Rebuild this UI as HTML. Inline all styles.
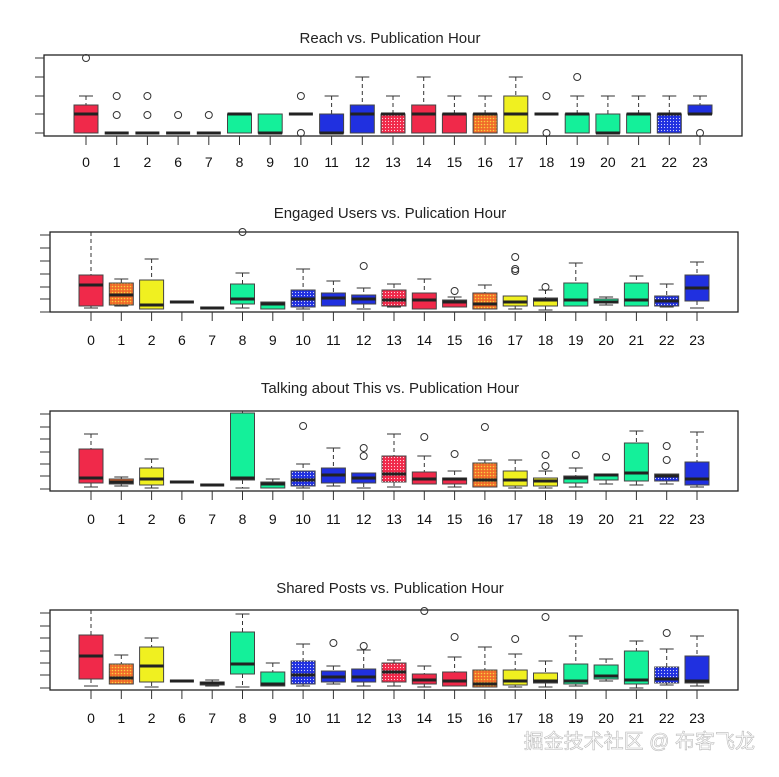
<!DOCTYPE html>
<html><head><meta charset="utf-8"><style>
html,body{margin:0;padding:0;background:#fff;}
svg{display:block;font-family:"Liberation Sans",Arial,sans-serif;}
</style></head><body>
<svg id="s" width="779" height="777" viewBox="0 0 779 777" xmlns="http://www.w3.org/2000/svg">
<defs>
<pattern id="dots" width="3" height="3" patternUnits="userSpaceOnUse"><rect width="3" height="3" fill="none"/><circle cx="1.5" cy="1.5" r="0.6" fill="#fff" opacity="0.8"/></pattern>
<pattern id="odots" width="3" height="3" patternUnits="userSpaceOnUse"><rect width="3" height="3" fill="#f06a2a"/><circle cx="1.5" cy="1.5" r="0.8" fill="#f8d040"/></pattern>
</defs>
</svg>
<script>
const C={r:'#f0294a',o:'#f06a2a',y:'#f0f020',g:'#14f09a',b:'#2030e0',k:'#333'};
const hrs=[0,1,2,6,7,8,9,10,11,12,13,14,15,16,17,18,19,20,21,22,23];
const cols=['r','o','y','k','k','g','g','b','b','b','r','r','r','o','y','y','g','g','g','b','b'];
const dotted=[1,7,10,13,19];
// [q1top,med,q3bottom,whiskTop,whiskBot,outliers]
const P=[
{title:'Reach vs. Publication Hour',ty:43,ly:167,fl:44,fr:742,ft:55,fb:136,x0:86,dx:30.7,ticks:[58,77,96,114,133],tl:35,
d:[[105,114,133,96,133,[58]],[133,133,133,133,133,[96,115]],[133,133,133,133,133,[96,115]],[133,133,133,133,133,[115]],[133,133,133,133,133,[115]],
[114,114,133,114,133,[]],[114,133,133,114,133,[]],[114,114,114,114,114,[96,133]],[114,133,133,96,133,[]],[105,114,133,77,133,[]],
[114,114,133,96,133,[]],[105,114,133,77,133,[]],[114,114,133,96,133,[]],[114,114,133,96,133,[]],[96,114,133,77,133,[]],
[114,114,114,114,114,[96,133]],[114,114,133,96,133,[77]],[114,133,133,96,133,[]],[114,114,133,96,133,[]],[114,114,133,96,133,[]],[105,114,114,96,114,[133]]]},
{title:'Engaged Users vs. Pulication Hour',ty:218,ly:345,fl:50,fr:738,ft:232,fb:312,x0:91,dx:30.3,ticks:[235,248,261,274,287,299,312],tl:40,
d:[[275,285,306,232,308,[]],[283,295,305,279,306,[]],[280,305,309,259,309,[]],[302,302,302,302,302,[]],[308,308,308,308,308,[]],
[284,299,304,273,308,[232]],[302,304,309,302,309,[]],[290,299,307,269,309,[]],[293,298,306,281,306,[]],[295,299,304,288,309,[266]],
[290,300,306,284,307,[]],[293,300,309,279,309,[]],[300,302,307,297,307,[291]],[293,304,309,285,309,[]],[296,302,306,296,309,[257,269,271]],
[298,300,306,290,310,[287]],[283,300,306,263,306,[]],[299,302,303,297,305,[]],[283,300,306,276,306,[]],[296,301,306,284,307,[]],[275,288,301,262,308,[]]]},
{title:'Talking about This vs. Publication Hour',ty:393,ly:524,fl:50,fr:738,ft:411,fb:491,x0:91,dx:30.3,ticks:[414,427,439,452,464,476,489],tl:40,
d:[[449,478,483,434,487,[]],[479,482,484,477,486,[]],[468,479,485,459,488,[]],[482,482,482,482,482,[]],[485,485,485,485,485,[]],
[413,478,480,411,488,[]],[482,484,488,479,488,[]],[471,480,486,464,488,[426]],[468,475,483,448,486,[]],[473,478,483,473,488,[448,456]],
[456,474,482,434,487,[]],[472,479,484,456,484,[437]],[478,479,484,471,487,[454]],[463,480,487,460,487,[427]],[471,480,486,460,488,[]],
[478,481,486,471,488,[455,466]],[476,478,483,468,487,[455]],[474,475,480,474,484,[457]],[443,473,481,431,485,[]],[474,476,481,474,484,[446,460]],[462,479,485,432,487,[]]]},
{title:'Shared Posts vs. Publication Hour',ty:593,ly:723,fl:50,fr:738,ft:610,fb:690,x0:91,dx:30.3,ticks:[613,626,638,651,663,675,688],tl:40,
d:[[635,656,679,610,686,[]],[664,678,684,655,684,[]],[647,666,682,638,687,[]],[681,681,681,681,681,[]],[682,683,685,680,686,[]],
[632,664,674,614,687,[]],[672,684,686,663,686,[]],[661,675,684,644,686,[]],[671,677,682,666,684,[643]],[669,677,682,650,686,[646]],
[663,672,682,660,686,[]],[674,680,684,666,687,[611]],[672,681,686,657,686,[637]],[670,684,687,647,687,[]],[670,681,685,654,687,[639]],
[673,681,683,661,687,[617]],[664,681,684,636,686,[]],[665,676,679,659,681,[]],[651,680,684,641,688,[]],[667,679,683,649,685,[633]],[656,681,683,636,686,[]]]}
];
let h='';
for(const p of P){
 h+=`<text x="390" y="${p.ty}" font-size="15" text-anchor="middle" fill="#222">${p.title}</text>`;
 h+=`<rect x="${p.fl}" y="${p.ft}" width="${p.fr-p.fl}" height="${p.fb-p.ft}" fill="none" stroke="#222" stroke-width="1.3"/>`;
 for(const t of p.ticks) h+=`<line x1="${p.tl}" y1="${t}" x2="${p.fl}" y2="${t}" stroke="#333"/>`;
 p.d.forEach((b,i)=>{
  const x=p.x0+p.dx*i, c=C[cols[i]];
  const [q3,med,q1,wt,wb,out]=b;
  h+=`<line x1="${x}" y1="${p.fb}" x2="${x}" y2="${p.fb+9}" stroke="#333"/>`;
  h+=`<text x="${x}" y="${p.ly}" font-size="14" text-anchor="middle" fill="#111">${hrs[i]}</text>`;
  if(wt<q3){h+=`<line x1="${x}" y1="${wt}" x2="${x}" y2="${q3}" stroke="#333" stroke-dasharray="4,3"/>`;if(wt>p.ft+1)h+=`<line x1="${x-7}" y1="${wt}" x2="${x+7}" y2="${wt}" stroke="#333"/>`;}
  if(wb>q1){h+=`<line x1="${x}" y1="${q1}" x2="${x}" y2="${wb}" stroke="#333" stroke-dasharray="4,3"/><line x1="${x-7}" y1="${wb}" x2="${x+7}" y2="${wb}" stroke="#333"/>`;}
  if(q1-q3>1){
   const f=cols[i]==='o'?'url(#odots)':c;
   h+=`<rect x="${x-12}" y="${q3}" width="24" height="${q1-q3}" fill="${f}" stroke="#444" stroke-width="1"/>`;
   if(dotted.includes(i)&&cols[i]!=='o')h+=`<rect x="${x-12}" y="${q3}" width="24" height="${q1-q3}" fill="url(#dots)"/>`;
  }
  h+=`<line x1="${x-12}" y1="${med}" x2="${x+12}" y2="${med}" stroke="#222" stroke-width="3"/>`;
  for(const o of out) h+=`<circle cx="${x}" cy="${o}" r="3.5" fill="none" stroke="#333"/>`;
 });
}
h+=`<text x="755" y="748" font-size="20" text-anchor="end" fill="#fff" stroke="#bbb" stroke-width="0.6" font-family="'Liberation Sans','Noto Sans CJK SC',sans-serif">掘金技术社区 @ 布客飞龙</text>`;
document.getElementById('s').insertAdjacentHTML('beforeend',h);
</script>
</body></html>
